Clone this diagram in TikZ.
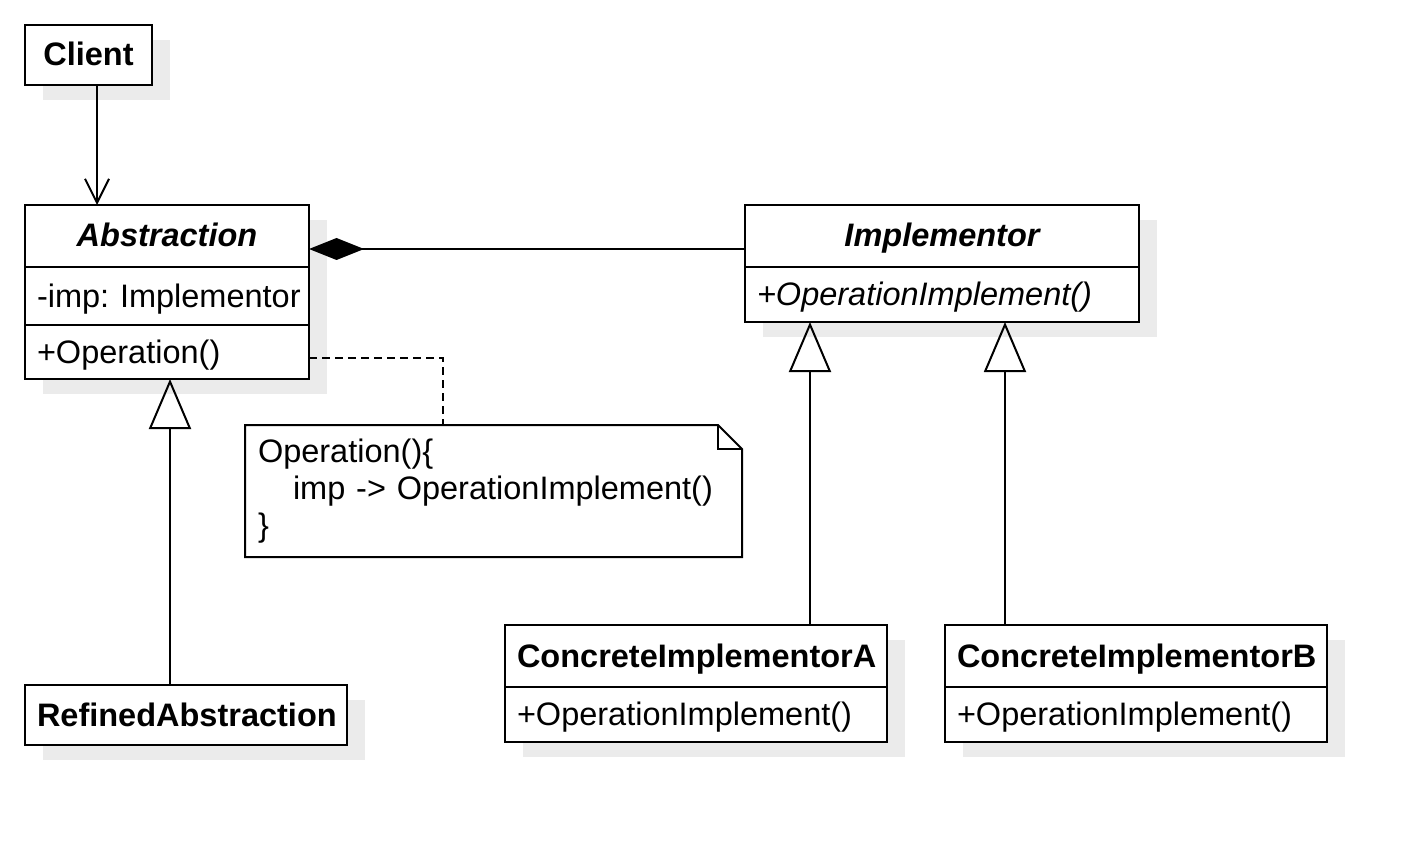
\documentclass[tikz,border=0pt]{standalone}
\usepackage{fontspec}
\setmainfont{Liberation Sans}
\usetikzlibrary{arrows.meta,shadows,calc}
\begin{document}
\begin{tikzpicture}[x=1pt,y=-1pt,
  every node/.style={font=\fontsize{32.5}{37}\selectfont, text height=25pt, text depth=3pt},
  cls/.style={draw, line width=2pt, fill=white, anchor=north west, inner ysep=0pt, inner xsep=12pt, outer sep=0pt,
    drop shadow={shadow xshift=18pt, shadow yshift=-15pt, fill=black!8, opacity=1}},
  hdr/.style={cls, align=center, font=\fontsize{32.5}{37}\selectfont\bfseries},
  ahdr/.style={hdr, font=\fontsize{32.5}{37}\selectfont\bfseries\itshape},
  cmp/.style={cls, align=left},
  conn/.style={line width=2pt},
  gen/.style={conn, -{Triangle[open, length=50pt, width=42pt]}},
  dep/.style={conn, -{Straight Barb[length=24pt, width=24pt]}},
  comp/.style={conn, {Diamond[length=55pt, width=22pt]}-},
  notelink/.style={conn, dash pattern=on 8pt off 5pt},
]
\fill[white] (0,0) rectangle (1425,845);
\useasboundingbox (0,0) rectangle (1425,845);

% Client
\node[hdr, text width=103pt, minimum height=60pt] (client) at (25,25) {Client};

% Abstraction
\node[ahdr, text width=260pt, minimum height=62pt] (absh) at (25,205) {Abstraction};
\node[cmp, text width=260pt, minimum height=58pt] (absa) at (25,267) {\mbox{-imp:\ Implementor}};
\node[cmp, text width=260pt, minimum height=54pt] (abso) at (25,325) {\mbox{+Operation()}};

% Implementor
\node[ahdr, text width=370pt, minimum height=62pt] (imph) at (745,205) {Implementor};
\node[cmp, text width=370pt, minimum height=55pt, font=\fontsize{32.5}{37}\selectfont\itshape] (impo) at (745,267) {\mbox{+OperationImplement()}};

% RefinedAbstraction
\node[hdr, text width=298pt, minimum height=60pt] (ref) at (25,685) {\mbox{RefinedAbstraction}};

% ConcreteImplementorA
\node[hdr, text width=358pt, minimum height=62pt] (ciah) at (505,625) {\mbox{ConcreteImplementorA}};
\node[cmp, text width=358pt, minimum height=55pt] (ciao) at (505,687) {\mbox{+OperationImplement()}};

% ConcreteImplementorB
\node[hdr, text width=358pt, minimum height=62pt] (cibh) at (945,625) {\mbox{ConcreteImplementorB}};
\node[cmp, text width=358pt, minimum height=55pt] (cibo) at (945,687) {\mbox{+OperationImplement()}};

% Note
\node[anchor=north west, minimum width=497pt, minimum height=132pt, inner xsep=13pt, inner ysep=0pt,
      text width=471pt, align=left, text height=, text depth=, outer sep=0pt] (note) at (245,425)
  {Operation()\{\\\hspace*{35pt}imp -> OperationImplement()\\\}};
\draw[line width=2pt, line join=miter]
  (note.north west) -- ([xshift=-24pt]note.north east) -- ([yshift=-24pt]note.north east)
  -- (note.south east) -- (note.south west) -- cycle;
\draw[line width=2pt]
  ([xshift=-24pt]note.north east) -- ([xshift=-24pt,yshift=-24pt]note.north east)
  -- ([yshift=-24pt]note.north east);

% Connectors
\draw[dep] ([xshift=8.5pt]client.south) -- ([xshift=8.5pt]client.south |- absh.north);
\draw[comp] ([yshift=-13pt]absh.east) -- ([yshift=-13pt]absh.east -| imph.west);
\draw[notelink] ([yshift=-6pt]abso.east) -| ([xshift=-50.5pt]note.north);
\draw[gen] ([xshift=-16pt]ref.north) -- ([xshift=-16pt]ref.north |- abso.south);
\draw[gen] ([xshift=114pt]ciah.north) -- ([xshift=114pt]ciah.north |- impo.south);
\draw[gen] ([xshift=-131pt]cibh.north) -- ([xshift=-131pt]cibh.north |- impo.south);
\end{tikzpicture}
\end{document}
